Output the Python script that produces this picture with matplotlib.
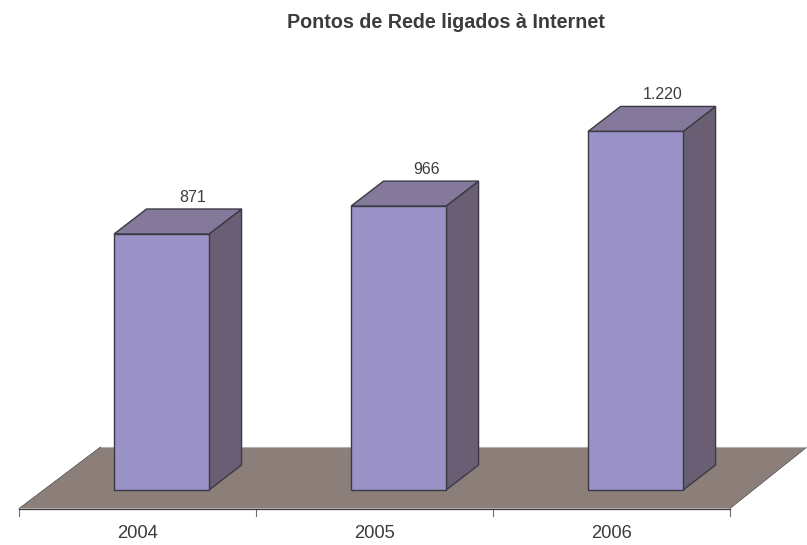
import matplotlib
matplotlib.use('Agg')
import matplotlib.pyplot as plt
from matplotlib.patches import Polygon

anos = ['2004', '2005', '2006']
pontos = [871, 966, 1220]
rotulos = ['871', '966', '1.220']
titulo = 'Pontos de Rede ligados à Internet'

plt.rcParams['font.family'] = ['Liberation Sans', 'DejaVu Sans']

W, H = 807, 545
px_x = 237.0       # pixels per category
px_y = 0.2939      # pixels per unit
x0 = 19.0          # pixel of category 0
y0 = 490.0         # pixel of value 0

def cx(px):
    return (px - x0) / px_x

def cy(px):
    return (y0 - px) / px_y

fig = plt.figure(figsize=(W / 100, H / 100), dpi=100)
ax = fig.add_axes([0, 0, 1, 1])
ax.set_xlim(cx(0), cx(W))
ax.set_ylim(cy(H), cy(0))
ax.axis('off')

cor_linha = '#3a3a44'
cor_texto = '#3c3c3c'
dx = 32.5 / px_x
dy = 25 / px_y
largura = 95 / px_x
desloc = 0.6015

# floor
n = len(anos)
chao = [(0, cy(508.5)), (n, cy(508.5)), (cx(807), cy(447)), (cx(100.5), cy(447))]
ax.add_patch(Polygon(chao, closed=True, facecolor='#8c7f7a', edgecolor='none', zorder=1))
ax.plot([0, n], [cy(508.5)] * 2, color='#3a3a3a', lw=0.9, zorder=2)
ax.plot([0, cx(100.5)], [cy(508.5), cy(447)], color='#4a4a4a', lw=0.5, zorder=2)
ax.plot([n, cx(807)], [cy(508.5), cy(447)], color='#4a4a4a', lw=0.5, zorder=2)
ax.plot([cx(100.5), cx(807)], [cy(447)] * 2, color='#b5b0ae', lw=0.8, zorder=2)

# ticks
for i in range(n + 1):
    ax.plot([i, i], [cy(508.5), cy(516)], color='#6e6e6e', lw=0.8, zorder=1)
for i, ano in enumerate(anos):
    ax.text(i + 0.5, cy(533.5), ano, ha='center', va='center', fontsize=13.2, color=cor_texto)

# bars
label_dx = [31, 28.5, 27.5]
for i, v in enumerate(pontos):
    e = i + desloc - largura / 2
    d = e + largura
    frente = [(e, 0), (d, 0), (d, v), (e, v)]
    lado = [(d, 0), (d + dx, dy), (d + dx, v + dy), (d, v)]
    topo = [(e, v), (d, v), (d + dx, v + dy), (e + dx, v + dy)]
    ax.add_patch(Polygon(lado, closed=True, facecolor='#6a5e74', edgecolor=cor_linha, lw=1, zorder=3))
    ax.add_patch(Polygon(topo, closed=True, facecolor='#85799b', edgecolor=cor_linha, lw=1, zorder=3))
    ax.add_patch(Polygon(frente, closed=True, facecolor='#9b93c8', edgecolor=cor_linha, lw=1, zorder=4))
    ax.text(i + desloc + label_dx[i] / px_x, v + dy + 11.5 / px_y, rotulos[i],
            ha='center', va='center', fontsize=11.5, color=cor_texto)

ax.text(cx(445.5), cy(23), titulo, ha='center', va='center', fontsize=14.2,
        fontweight='bold', color=cor_texto)

fig.savefig('out.png', dpi=100)
